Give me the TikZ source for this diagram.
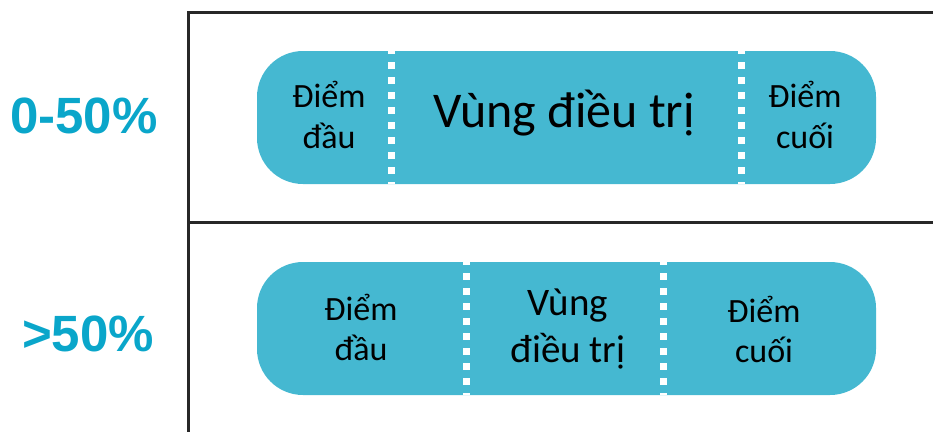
\documentclass[tikz,border=0pt]{standalone}
\usepackage{fontspec}
\setmainfont{Carlito}
\newfontfamily\pctfont{Liberation Sans}
\definecolor{pillblue}{RGB}{69,184,209}
\definecolor{pctblue}{RGB}{10,166,202}
\definecolor{framegray}{RGB}{40,40,40}
\begin{document}
\begin{tikzpicture}[x=1pt,y=-1pt,
  pill/.style={fill=pillblue,draw=none,rounded corners=46pt},
  divider/.style={draw=white,line width=7pt,dash pattern=on 7pt off 8pt,dash phase=4pt},
  frameline/.style={draw=framegray,line width=3pt},
  small/.style={anchor=base,inner sep=0pt,font=\fontsize{34}{40}\selectfont},
  pct/.style={anchor=base,inner sep=0pt,text=pctblue,font=\pctfont\bfseries\fontsize{51}{60}\selectfont}]
\useasboundingbox (0,0) rectangle (933,432);
% frame
\coordinate (ftl) at (188,12);
\coordinate (ftr) at (933,12);
\coordinate (fbl) at (188,432);
\coordinate (fml) at (188,222);
\coordinate (fmr) at (933,222);
\draw[frameline] (ftr) -- (ftl) -- (fbl);
\draw[frameline] (fml) -- (fmr);
% percent labels
\node[pct] (p1) at (84,133) {0-50\%};
\node[pct] (p2) at (88,351) {>50\%};
% top pill
\fill[pill] (257,51) rectangle (876,184);
\coordinate (d1t) at (391,51); \coordinate (d1b) at (391,184);
\coordinate (d2t) at (741,51); \coordinate (d2b) at (741,184);
\draw[divider] (d1t) -- (d1b);
\draw[divider] (d2t) -- (d2b);
\node[small] (a1) at (329,107) {Điểm};
\node[small] (a2) at (329,148) {đầu};
\node[anchor=base,inner sep=0pt,font=\fontsize{50}{58}\selectfont] (a3) at (564,127) {Vùng điều trị};
\node[small] (a4) at (805,107) {Điểm};
\node[small] (a5) at (805,148) {cuối};
% bottom pill
\fill[pill] (257,262) rectangle (876,395);
\coordinate (e1t) at (466,262); \coordinate (e1b) at (466,395);
\coordinate (e2t) at (663,262); \coordinate (e2b) at (663,395);
\draw[divider] (e1t) -- (e1b);
\draw[divider] (e2t) -- (e2b);
\node[small] (b1) at (361,320) {Điểm};
\node[small] (b2) at (361,360) {đầu};
\node[anchor=base,inner sep=0pt,font=\fontsize{39}{46}\selectfont] (b3) at (568,315) {Vùng};
\node[anchor=base,inner sep=0pt,font=\fontsize{39}{46}\selectfont] (b4) at (568,362) {điều trị};
\node[small] (b5) at (764,322) {Điểm};
\node[small] (b6) at (764,362) {cuối};
\end{tikzpicture}
\end{document}
